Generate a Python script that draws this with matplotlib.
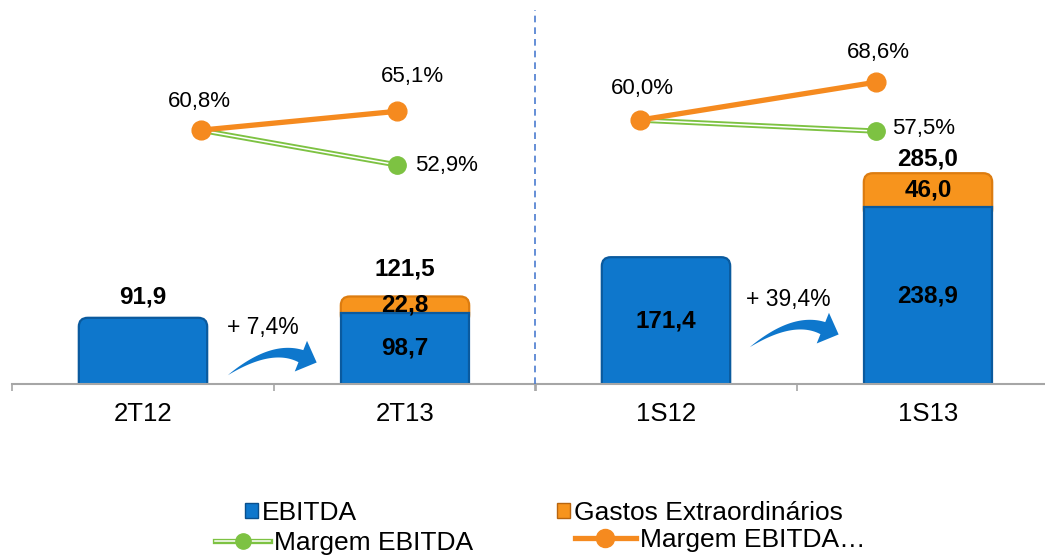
import matplotlib
matplotlib.use("Agg")
import numpy as np
import matplotlib.pyplot as plt
from matplotlib.patches import FancyBboxPatch, Polygon, Patch
from matplotlib.lines import Line2D

plt.rcParams['font.family'] = ['Liberation Sans', 'DejaVu Sans']

# ---------------- data ----------------
cats_q = ['2T12', '2T13']
ebitda_q = [91.9, 98.7]
extra_q = [0.0, 22.8]
total_q = [91.9, 121.5]
margem_q = [60.8, 52.9]
margem_aj_q = [60.8, 65.1]
growth_q = '+ 7,4%'

cats_s = ['1S12', '1S13']
ebitda_s = [171.4, 238.9]
extra_s = [0.0, 46.0]
total_s = [171.4, 285.0]
margem_s = [60.0, 57.5]
margem_aj_s = [60.0, 68.6]
growth_s = '+ 39,4%'

legend_labels = ['EBITDA', 'Gastos Extraordinários', 'Margem EBITDA', 'Margem EBITDA…']

# ---------------- style ----------------
BLUE = '#0E77CC'
BLUE_EDGE = '#0A5A9E'
ORANGE = '#F7941D'
ORANGE_EDGE = '#DC7C10'
ORANGE_LINE = '#F58A1F'
GREEN = '#7DC242'
GRAY = '#A6A6A6'

W, H = 1045, 555
AXW, AXH = 524, 384          # axes size in px
PX = 72 / 100.0              # points per pixel

fig = plt.figure(figsize=(W / 100, H / 100), dpi=100)


def fmt(v):
    return f"{v:.1f}".replace('.', ',')


def rounded_top(ax, rect, color, edge, ylim_top, r_px=9):
    x, w = rect.get_x(), rect.get_width()
    y0 = rect.get_y()
    top = y0 + rect.get_height()
    xu = 1.0 / 262.0
    yu = ylim_top / 384.0
    rs = r_px * xu
    ext = (r_px + 2) * yu
    p = FancyBboxPatch((x, y0 - ext), w, top - y0 + ext,
                       boxstyle=f"round,pad=0,rounding_size={rs}",
                       mutation_aspect=yu / xu, facecolor=color,
                       edgecolor=edge, linewidth=1.6, zorder=2,
                       clip_on=True)
    ax.add_patch(p)


def swoosh(ax, tail_frac, color):
    """Curved tapered arrow, shape defined in pixels, anchored in axes fraction."""
    p0 = np.array([tail_frac[0] * AXW, tail_frac[1] * AXH])
    p2 = p0 + np.array([73.0, 19.0])          # head base centre
    d = np.array([15.0, -6.0])
    d = d / np.hypot(*d)
    p1 = p2 - 32.0 * d                         # bezier control
    tip = p2 + 17.0 * d
    t = np.linspace(0, 1, 40)
    B = ((1 - t) ** 2)[:, None] * p0 + (2 * (1 - t) * t)[:, None] * p1 + (t ** 2)[:, None] * p2
    dB = (2 * (1 - t))[:, None] * (p1 - p0) + (2 * t)[:, None] * (p2 - p1)
    n = np.stack([-dB[:, 1], dB[:, 0]], axis=1)
    n = n / np.hypot(n[:, 0], n[:, 1])[:, None]
    hw = 6.5 * t ** 0.9
    upper = B + hw[:, None] * n
    lower = B - hw[:, None] * n
    n2 = np.array([-d[1], d[0]])
    head = np.array([p2 + 16.5 * n2, tip, p2 - 16.5 * n2])
    pts = np.vstack([upper, head, lower[::-1]])
    pts = pts / np.array([AXW, AXH])
    ax.add_patch(Polygon(pts, closed=True, transform=ax.transAxes,
                         facecolor=color, edgecolor='none', zorder=4))


def panel(ax, cats, ebitda, extra, total, margem, margem_aj, growth,
          bar_top, pct_lim, line_x, pct_offsets, total_inside,
          total_offset, growth_pos, arrow_tail):
    xs = list(range(len(cats)))
    ax.set_xlim(-0.5, 1.5)
    ax.set_ylim(0, bar_top)
    width = 0.49
    b1 = ax.bar(xs, ebitda, width, color=BLUE, edgecolor=BLUE_EDGE,
                linewidth=1.6, zorder=3)
    b2 = ax.bar(xs, extra, width, bottom=ebitda, color=ORANGE,
                edgecolor=ORANGE_EDGE, linewidth=1.6, zorder=3)
    for i in xs:
        if extra[i] > 0:
            b2[i].set_visible(False)
            rounded_top(ax, b2[i], ORANGE, ORANGE_EDGE, bar_top)
        else:
            b2[i].set_visible(False)
            b1[i].set_visible(False)
            rounded_top(ax, b1[i], BLUE, BLUE_EDGE, bar_top)

    for i in xs:
        if extra[i] > 0:
            ax.text(i, ebitda[i] / 2, fmt(ebitda[i]), ha='center', va='center',
                    fontsize=17.5, fontweight='bold', zorder=5)
            ax.text(i, ebitda[i] + extra[i] / 2, fmt(extra[i]), ha='center',
                    va='center', fontsize=17.5, fontweight='bold', zorder=5)
            ax.annotate(fmt(total[i]), (i, total[i]), xytext=(0, total_offset[i] * PX),
                        textcoords='offset points', ha='center', va='bottom',
                        fontsize=17.5, fontweight='bold')
        elif total_inside:
            ax.text(i, ebitda[i] / 2, fmt(ebitda[i]), ha='center', va='center',
                    fontsize=17.5, fontweight='bold', zorder=5)
        else:
            ax.annotate(fmt(total[i]), (i, total[i]), xytext=(0, total_offset[i] * PX),
                        textcoords='offset points', ha='center', va='bottom',
                        fontsize=17.5, fontweight='bold')

    for s in ['left', 'right', 'top']:
        ax.spines[s].set_visible(False)
    ax.spines['bottom'].set_color(GRAY)
    ax.spines['bottom'].set_linewidth(1.5)
    ax.spines['bottom'].set_zorder(4)
    ax.set_yticks([])
    ax.set_xticks(xs)
    ax.set_xticklabels(cats, fontsize=18.5)
    ax.tick_params(axis='x', which='major', length=0, pad=13)
    ax.set_xticks([-0.5, 0.5, 1.5], minor=True)
    ax.tick_params(axis='x', which='minor', length=5, width=1.2, color=GRAY,
                   direction='out')
    ax.patch.set_alpha(0)

    ax.text(growth_pos[0], growth_pos[1], growth, transform=ax.transAxes,
            ha='center', va='center', fontsize=16.5)
    swoosh(ax, arrow_tail, BLUE)

    ax2 = ax.twinx()
    ax2.set_ylim(*pct_lim)
    ax2.axis('off')
    ax2.plot(line_x, margem, color=GREEN, lw=3.8, solid_capstyle='butt', zorder=3)
    ax2.plot(line_x, margem, color='white', lw=1.1, solid_capstyle='butt', zorder=3)
    ax2.plot(line_x, margem, ls='', marker='o', ms=12.5, color=GREEN, zorder=4)
    ax2.plot(line_x, margem_aj, color=ORANGE_LINE, lw=3.8, marker='o', ms=13.5,
             zorder=5)
    o = pct_offsets
    ax2.annotate(f"{margem_aj[0]:.1f}%".replace('.', ','), (line_x[0], margem_aj[0]),
                 xytext=(o[0][0] * PX, o[0][1] * PX), textcoords='offset points',
                 ha='center', va='center', fontsize=16)
    ax2.annotate(f"{margem_aj[1]:.1f}%".replace('.', ','), (line_x[1], margem_aj[1]),
                 xytext=(o[1][0] * PX, o[1][1] * PX), textcoords='offset points',
                 ha='center', va='center', fontsize=16)
    ax2.annotate(f"{margem[1]:.1f}%".replace('.', ','), (line_x[1], margem[1]),
                 xytext=(o[2][0] * PX, o[2][1] * PX), textcoords='offset points',
                 ha='left', va='center', fontsize=16)
    return ax2


axL = fig.add_axes([12 / W, 1 - 384 / H, AXW / W, AXH / H])
axR = fig.add_axes([535 / W, 1 - 384 / H, AXW / W, AXH / H])

panel(axL, cats_q, ebitda_q, extra_q, total_q, margem_q, margem_aj_q, growth_q,
      bar_top=533, pct_lim=(3.1, 90.4), line_x=[0.22, 0.97],
      pct_offsets=[(-1, 29), (15, 35), (18, -1)], total_inside=False,
      total_offset=[9, 16], growth_pos=(0.479, 0.148),
      arrow_tail=(0.412, 0.023))

panel(axR, cats_s, ebitda_s, extra_s, total_s, margem_s, margem_aj_s, growth_s,
      bar_top=519, pct_lim=(0.0, 87.3), line_x=[-0.10, 0.80],
      pct_offsets=[(3, 32), (3, 30), (16, 3)], total_inside=True,
      total_offset=[9, 3], growth_pos=(0.483, 0.219),
      arrow_tail=(0.41, 0.096))

fig.add_artist(Line2D([535 / W, 535 / W], [1 - 384 / H, 1 - 10 / H],
                      transform=fig.transFigure, ls=(0, (4, 3)), lw=1.2,
                      color='#4A7BD0'))

h_ebitda = Patch(facecolor=BLUE, edgecolor='#0A4F8C')
h_extra = Patch(facecolor=ORANGE, edgecolor='#B8650F')
h_margem = (Line2D([], [], color=GREEN, lw=3.8),
            Line2D([], [], color='white', lw=1.1),
            Line2D([], [], ls='', marker='o', ms=11, color=GREEN))
h_margem_aj = Line2D([], [], color=ORANGE_LINE, lw=3.8, marker='o', ms=13)

specs = [
    (h_ebitda, legend_labels[0], 245, 513, 0.5, 0.5),
    (h_extra, legend_labels[1], 557, 513, 0.5, 0.5),
    (h_margem, legend_labels[2], 215, 543, 2.1, 0.7),
    (h_margem_aj, legend_labels[3], 575, 540, 2.3, 0.7),
]
for h, lab, xp, yp, hl, hh in specs:
    fig.legend([h], [lab], loc='center left',
               bbox_to_anchor=(xp / W, 1 - yp / H), frameon=False,
               fontsize=19, handlelength=hl, handleheight=hh,
               handletextpad=0.15, borderpad=0, borderaxespad=0,
               numpoints=1)

fig.savefig('out.png', dpi=100)
